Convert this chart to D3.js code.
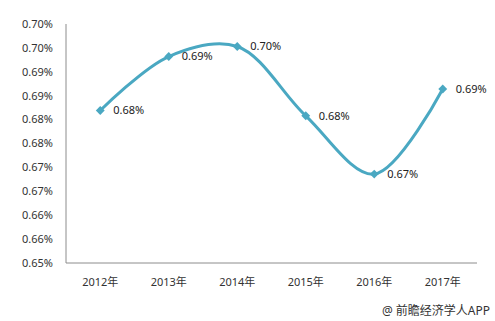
<!DOCTYPE html>
<html>
<head>
<meta charset="utf-8">
<script src="https://cdn.jsdelivr.net/npm/d3@7"></script>
<style>
  body { margin: 0; background: #fff; }
  svg { display: block; font-family: "Noto Sans", "Noto Sans CJK SC", sans-serif; }
</style>
</head>
<body>
<svg id="chart" width="495" height="321"></svg>
<script>
// chart data
const years = ['2012年', '2013年', '2014年', '2015年', '2016年', '2017年']
const ratios = [0.6819, 0.6932, 0.6953, 0.6808, 0.6686, 0.6864]
const yTicks = [0.650, 0.655, 0.660, 0.665, 0.670, 0.675, 0.680, 0.685, 0.690, 0.695, 0.700]

const svg = d3.select('#chart')
const margin = {left: 66, right: 18, top: 24, bottom: 58}
const width = 495, height = 321
const lineColor = '#4aa8c2'

const x = d3.scaleBand()
  .domain(years)
  .range([margin.left, width - margin.right])

const y = d3.scaleLinear()
  .domain([0.65, 0.70])
  .range([height - margin.bottom, margin.top])

// rounds halves up like the original labels do
const fmt = v => (Math.round(v * 100 + 1e-9) / 100).toFixed(2) + '%'

// y axis labels
svg.append('g')
  .selectAll('text')
  .data(yTicks)
  .enter().append('text')
  .attr('x', margin.left - 13)
  .attr('y', d => y(d))
  .attr('dy', '0.35em')
  .attr('text-anchor', 'end')
  .attr('font-size', 11)
  .attr('fill', '#333')
  .text(fmt)

// axis lines
svg.append('line')
  .attr('x1', margin.left).attr('x2', margin.left)
  .attr('y1', y(0.70)).attr('y2', y(0.65))
  .attr('stroke', '#8c8c8c')
svg.append('line')
  .attr('x1', margin.left).attr('x2', width - margin.right)
  .attr('y1', y(0.65)).attr('y2', y(0.65))
  .attr('stroke', '#8c8c8c')

// x labels
svg.append('g')
  .selectAll('text')
  .data(years)
  .enter().append('text')
  .attr('x', d => x(d) + x.bandwidth() / 2)
  .attr('y', y(0.65) + 23)
  .attr('text-anchor', 'middle')
  .attr('font-size', 11)
  .attr('fill', '#333')
  .text(d => d)

const pts = years.map((yr, i) => ({year: yr, value: ratios[i]}))

// smooth line
const line = d3.line()
  .x(d => x(d.year) + x.bandwidth() / 2)
  .y(d => y(d.value))
  .curve(d3.curveCatmullRom.alpha(0.5))

svg.append('path')
  .datum(pts)
  .attr('d', line)
  .attr('fill', 'none')
  .attr('stroke', lineColor)
  .attr('stroke-width', 3)

// diamond markers
svg.append('g')
  .selectAll('path')
  .data(pts)
  .enter().append('path')
  .attr('transform', d => `translate(${x(d.year) + x.bandwidth() / 2},${y(d.value)})`)
  .attr('d', d3.symbol().type(d3.symbolDiamond2).size(50))
  .attr('fill', lineColor)

// value labels
svg.append('g')
  .selectAll('text')
  .data(pts)
  .enter().append('text')
  .attr('x', d => x(d.year) + x.bandwidth() / 2 + 13)
  .attr('y', d => y(d.value))
  .attr('dy', '0.35em')
  .attr('font-size', 11)
  .attr('fill', '#222')
  .text(d => fmt(d.value))

// source note
svg.append('text')
  .attr('x', 490)
  .attr('y', 315)
  .attr('text-anchor', 'end')
  .attr('font-size', 12)
  .attr('fill', '#333')
  .text('@ 前瞻经济学人APP')
</script>
</body>
</html>
